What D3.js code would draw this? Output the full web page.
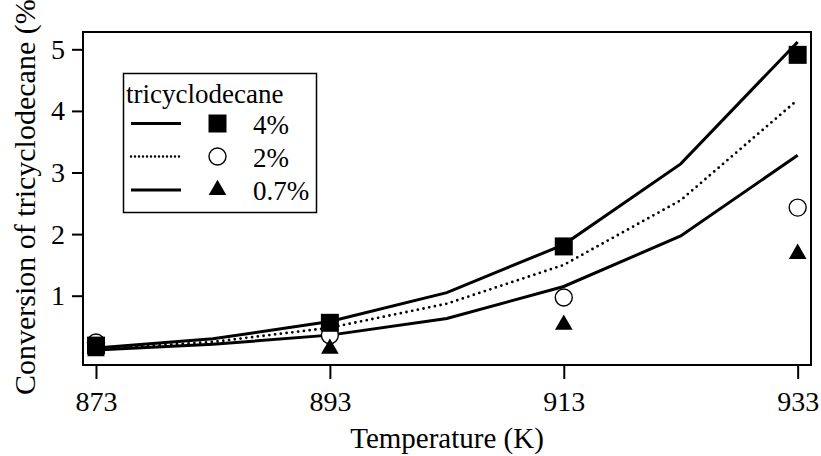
<!DOCTYPE html>
<html>
<head>
<meta charset="utf-8">
<script src="https://cdn.jsdelivr.net/npm/d3@7"></script>
<style>
  html, body { margin: 0; padding: 0; background: #fff; }
  svg { display: block; }
  svg text { font-family: "Liberation Serif", "Tinos", "Times New Roman", Times, "DejaVu Serif", serif !important; fill: #000; }
</style>
</head>
<body>
<script>
// ---- data ----
const expTemps = [873, 893, 913, 933];
const exp4 = [0.19, 0.56, 1.80, 4.91];
const exp2 = [0.24, 0.36, 0.97, 2.43];
const exp07 = [0.10, 0.14, 0.53, 1.68];

const modelTemps = [873, 883, 893, 903, 913, 923, 933];
const model4 = [0.15, 0.30, 0.58, 1.05, 1.83, 3.14, 5.12];
const model2 = [0.13, 0.25, 0.48, 0.87, 1.50, 2.55, 4.18];
const model07 = [0.12, 0.21, 0.36, 0.63, 1.15, 1.97, 3.28];

const xTicks = [873, 893, 913, 933];
const yTicks = [1, 2, 3, 4, 5];
const legendTitle = "tricyclodecane";
const legendLabels = ["4%", "2%", "0.7%"];
const xTitle = "Temperature (K)";
const yTitle = "Conversion of tricyclodecane (%)";

// ---- layout ----
const W = 821, H = 456;
const L = 83, R = 811, T = 32, B = 365;
const FONT = '"Liberation Serif", "Tinos", "Times New Roman", Times, "DejaVu Serif", serif';

const svg = d3.select("body").append("svg").attr("width", W).attr("height", H)
  .attr("font-family", FONT);

const x = d3.scaleLinear().domain([871.89, 934.14]).range([L, R]);
const y = d3.scaleLinear().domain([-0.125, 5.281]).range([B, T]);

// axes
const xAxis = d3.axisBottom(x).tickValues(xTicks).tickSize(14).tickPadding(12).tickFormat(d3.format("d"));
const gx = svg.append("g").attr("transform", `translate(0,${B})`).call(xAxis)
  .attr("font-family", FONT).attr("font-size", 28);
gx.select(".domain").remove();
gx.selectAll("line").attr("stroke", "#000").attr("stroke-width", 2);
gx.selectAll("text").attr("font-family", FONT).attr("font-size", 28);

const yAxis = d3.axisLeft(y).tickValues(yTicks).tickSize(11).tickPadding(7).tickFormat(d3.format("d"));
const gy = svg.append("g").attr("transform", `translate(${L},0)`).call(yAxis)
  .attr("font-family", FONT).attr("font-size", 28);
gy.select(".domain").remove();
gy.selectAll("line").attr("stroke", "#000").attr("stroke-width", 2);
gy.selectAll("text").attr("font-family", FONT).attr("font-size", 28);

// frame
svg.append("rect").attr("x", L).attr("y", T).attr("width", R - L).attr("height", B - T)
  .attr("fill", "none").attr("stroke", "#000").attr("stroke-width", 2);

// titles
svg.append("text").attr("x", (L + R) / 2).attr("y", 448).attr("text-anchor", "middle")
  .attr("font-size", 29).text(xTitle);
svg.append("text").attr("transform", "translate(35,395) rotate(-90)").attr("text-anchor", "start")
  .attr("font-size", 30).text(yTitle);

// model lines
const line = d3.line().x(d => x(d[0])).y(d => y(d[1]));
const mk = arr => modelTemps.map((t, i) => [t, arr[i]]);
svg.append("path").attr("d", line(mk(model07))).attr("fill", "none").attr("stroke", "#000").attr("stroke-width", 3);
svg.append("path").attr("d", line(mk(model2))).attr("fill", "none").attr("stroke", "#000").attr("stroke-width", 2.8)
  .attr("stroke-dasharray", "0,5.8").attr("stroke-linecap", "round");
svg.append("path").attr("d", line(mk(model4))).attr("fill", "none").attr("stroke", "#000").attr("stroke-width", 3);

// markers
const sq = d3.symbol().type(d3.symbolSquare).size(18 * 18);
const tri = d3.symbol().type(d3.symbolTriangle).size(135);

svg.append("g").selectAll("circle").data(expTemps.map((t, i) => [t, exp2[i]])).join("circle")
  .attr("cx", d => x(d[0])).attr("cy", d => y(d[1])).attr("r", 8.5)
  .attr("fill", "#fff").attr("stroke", "#000").attr("stroke-width", 1.4);
svg.append("g").selectAll("path").data(expTemps.map((t, i) => [t, exp4[i]])).join("path")
  .attr("transform", d => `translate(${x(d[0])},${y(d[1])})`).attr("d", sq).attr("fill", "#000");
svg.append("g").selectAll("path").data(expTemps.map((t, i) => [t, exp07[i]])).join("path")
  .attr("transform", d => `translate(${x(d[0])},${y(d[1])})`).attr("d", tri).attr("fill", "#000");

// legend
const lg = svg.append("g");
lg.append("rect").attr("x", 123.5).attr("y", 73.5).attr("width", 193).attr("height", 139)
  .attr("fill", "#fff").attr("stroke", "#000").attr("stroke-width", 1.5);
lg.append("text").attr("x", 126).attr("y", 102.5).attr("font-size", 27).text(legendTitle);
const rowsY = [123.5, 156.5, 190];
const dashes = [null, "0,4", null];
rowsY.forEach((ry, i) => {
  const p = lg.append("line").attr("x1", 131).attr("x2", 181).attr("y1", ry).attr("y2", ry)
    .attr("stroke", "#000").attr("stroke-width", i === 1 ? 2.4 : 3);
  if (dashes[i]) p.attr("stroke-dasharray", dashes[i]).attr("stroke-linecap", "round");
  if (i === 0) lg.append("path").attr("transform", `translate(217.5,${ry})`).attr("d", sq).attr("fill", "#000");
  if (i === 1) lg.append("circle").attr("cx", 217.5).attr("cy", ry).attr("r", 8.5).attr("fill", "#fff").attr("stroke", "#000").attr("stroke-width", 1.4);
  if (i === 2) lg.append("path").attr("transform", `translate(217.5,${ry})`).attr("d", tri).attr("fill", "#000");
  lg.append("text").attr("x", 253).attr("y", ry + 10).attr("font-size", 27).text(legendLabels[i]);
});
</script>
</body>
</html>
